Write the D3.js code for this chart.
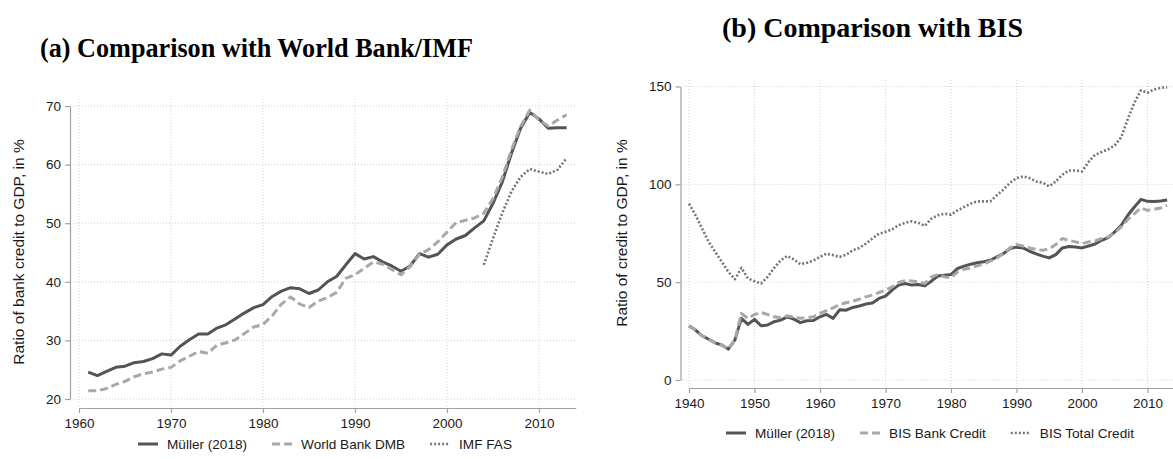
<!DOCTYPE html>
<html>
<head>
<meta charset="utf-8">
<script src="https://cdn.jsdelivr.net/npm/d3@7"></script>
<style>
  body { margin: 0; background: #fff; }
  svg { display: block; }
  text { font-family: "Liberation Sans", Arial, Helvetica, sans-serif; fill: #1a1a1a; }
  .title { font-family: "Liberation Serif", "Times New Roman", serif; font-weight: bold; fill: #000; }
</style>
</head>
<body>
<svg id="chart" width="1173" height="459"></svg>
<script>
// ---- Panel (a): bank credit to GDP, Müller vs World Bank / IMF ----
const yearsA = d3.range(1961, 2014);
const mullerA = [
  24.6, 24.0, 24.7, 25.4, 25.6, 26.2, 26.4, 26.9, 27.7, 27.5,
  29.0, 30.1, 31.1, 31.1, 32.1, 32.7, 33.7, 34.7, 35.6, 36.1,
  37.5, 38.4, 39.0, 38.8, 38.0, 38.6, 40.0, 40.9, 42.9, 44.8,
  43.9, 44.3, 43.4, 42.7, 41.8, 42.7, 44.8, 44.2, 44.7, 46.3,
  47.3, 47.9, 49.2, 50.4, 53.4, 57.0, 61.9, 66.2, 68.9, 67.8,
  66.2, 66.3, 66.3
];
const worldBankDMB = [
  21.4, 21.4, 21.8, 22.5, 23.0, 23.8, 24.3, 24.6, 25.1, 25.4,
  26.5, 27.3, 28.1, 27.8, 29.2, 29.6, 30.1, 31.2, 32.3, 32.7,
  34.2, 36.2, 37.4, 36.2, 35.6, 36.7, 37.3, 38.2, 40.6, 41.2,
  42.3, 43.4, 43.0, 42.1, 41.2, 42.6, 44.7, 45.5, 46.8, 48.5,
  50.1, 50.5, 50.9, 51.7, 54.2, 57.8, 62.5, 66.5, 69.3, 67.6,
  66.6, 67.6, 68.5
];
const yearsIMF = d3.range(2004, 2014);
const imfFAS = [42.9, 47.4, 51.7, 55.4, 57.9, 59.25, 58.8, 58.4, 59.1, 61.1];
const xTicksA = [1960, 1970, 1980, 1990, 2000, 2010];
const yTicksA = [20, 30, 40, 50, 60, 70];

// ---- Panel (b): credit to GDP, Müller vs BIS ----
const yearsB = d3.range(1940, 2014);
const mullerB = [
  27.7, 25.5, 22.6, 20.8, 19.0, 17.9, 15.8, 20.4, 31.5, 28.4,
  31.0, 27.7, 28.1, 29.8, 30.6, 32.3, 31.1, 29.3, 30.3, 30.4,
  32.3, 33.5, 31.5, 35.9, 35.7, 37.1, 37.8, 38.8, 39.3, 41.7,
  42.9, 45.9, 48.5, 49.3, 48.5, 48.8, 48.1, 50.5, 53.1, 53.6,
  53.9, 57.0, 58.2, 59.2, 59.9, 60.4, 61.2, 62.9, 64.6, 67.2,
  67.9, 67.5, 65.8, 64.5, 63.3, 62.4, 64.1, 67.5, 68.2, 68.0,
  67.5, 68.5, 69.5, 71.4, 72.8, 75.7, 79.1, 84.2, 88.4, 92.3,
  91.3, 91.2, 91.5, 92.0
];
const bisBankCredit = [
  27.7, 25.5, 22.6, 20.8, 19.0, 17.9, 15.8, 20.4, 34.0, 31.5,
  33.5, 34.5, 33.5, 32.3, 31.8, 32.8, 32.3, 31.5, 31.8, 32.3,
  34.0, 35.5, 36.9, 38.6, 39.5, 40.3, 41.3, 42.5, 43.4, 44.7,
  45.9, 47.6, 49.8, 50.8, 50.6, 50.2, 49.3, 52.7, 53.9, 52.7,
  52.2, 55.3, 56.6, 57.3, 58.3, 59.3, 60.7, 62.4, 64.6, 67.5,
  69.2, 68.5, 67.5, 66.7, 66.3, 67.0, 69.2, 72.3, 71.4, 70.6,
  69.7, 70.6, 71.1, 72.3, 73.1, 75.3, 78.2, 82.1, 85.0, 87.9,
  86.7, 87.2, 87.9, 89.3
];
const bisTotalCredit = [
  90.1, 84.2, 77.4, 70.6, 65.5, 60.4, 55.3, 51.5, 57.3, 51.9,
  50.5, 49.3, 52.7, 57.3, 61.2, 63.4, 61.6, 59.2, 59.9, 61.1,
  62.9, 64.6, 63.8, 62.9, 64.0, 66.3, 67.5, 69.7, 72.3, 74.8,
  75.7, 77.0, 79.1, 80.3, 81.1, 80.3, 78.8, 82.5, 84.2, 85.0,
  84.5, 86.7, 88.4, 90.1, 91.3, 91.3, 91.3, 94.4, 97.3, 100.8,
  103.2, 104.1, 103.2, 101.5, 100.8, 99.0, 101.5, 104.9, 107.1, 107.1,
  106.6, 111.4, 115.1, 116.5, 117.9, 119.9, 124.1, 133.5, 141.7, 148.0,
  146.8, 148.5, 149.3, 149.6
];
const xTicksB = [1940, 1950, 1960, 1970, 1980, 1990, 2000, 2010];
const yTicksB = [0, 50, 100, 150];

// Line styles shared by both panels
const lineStyle = {
  solid: { stroke: "#545454", width: 3, dash: null },
  dash:  { stroke: "#a8a8a8", width: 3, dash: "8,4" },
  dot:   { stroke: "#757575", width: 2.6, dash: "2,2" }
};

const svg = d3.select("#chart");
svg.append("rect").attr("width", 1173).attr("height", 459).attr("fill", "#fff");

function drawPanel(cfg) {
  const g = svg.append("g");
  const { x, y } = cfg;

  // grid
  g.append("g").selectAll("line.h").data(cfg.yTicks).join("line")
    .attr("x1", cfg.left).attr("x2", cfg.right)
    .attr("y1", d => y(d)).attr("y2", d => y(d))
    .attr("stroke", "#d2d2d2").attr("stroke-width", 1).attr("stroke-dasharray", "1,2");
  g.append("g").selectAll("line.v").data(cfg.xTicks).join("line")
    .attr("x1", d => x(d)).attr("x2", d => x(d))
    .attr("y1", cfg.top).attr("y2", cfg.bottom)
    .attr("stroke", "#d2d2d2").attr("stroke-width", 1).attr("stroke-dasharray", "1,2");

  // axes
  const ax = g.append("g").attr("transform", `translate(0,${cfg.bottom})`)
    .call(d3.axisBottom(x).tickValues(cfg.xTicks).tickFormat(d3.format("d")).tickSize(5).tickSizeOuter(0).tickPadding(5));
  const ay = g.append("g").attr("transform", `translate(${cfg.left},0)`)
    .call(d3.axisLeft(y).tickValues(cfg.yTicks).tickSize(5).tickSizeOuter(0).tickPadding(4));
  [ax, ay].forEach(a => {
    a.select(".domain").attr("stroke", "#a0a0a0").attr("stroke-width", 1.2);
    a.selectAll(".tick line").attr("stroke", "#a0a0a0").attr("stroke-width", 1.2);
    a.selectAll(".tick text").attr("font-size", 13.5).attr("fill", "#1a1a1a")
      .attr("font-family", "'Liberation Sans', Arial, sans-serif");
  });

  // series
  cfg.series.forEach(s => {
    const st = lineStyle[s.style];
    const pts = s.years.map((yr, i) => [yr, s.values[i]]);
    g.append("path").datum(pts)
      .attr("d", d3.line().x(d => x(d[0])).y(d => y(d[1])))
      .attr("fill", "none").attr("stroke", st.stroke).attr("stroke-width", st.width)
      .attr("stroke-dasharray", st.dash).attr("stroke-linejoin", "round");
  });

  // y-axis title
  g.append("text")
    .attr("transform", `translate(${cfg.yTitleX},${cfg.yTitleY}) rotate(-90)`)
    .attr("text-anchor", "middle").attr("font-size", 15.5)
    .text(cfg.yTitle);

  // panel title
  g.append("text").attr("class", "title")
    .attr("x", cfg.titleX).attr("y", cfg.titleY).attr("text-anchor", "middle")
    .attr("font-size", 27).attr("textLength", cfg.titleLen).attr("lengthAdjust", "spacingAndGlyphs")
    .text(cfg.title);

  // legend
  let lx = cfg.legendX;
  const ly = cfg.legendY;
  cfg.series.forEach(s => {
    const st = lineStyle[s.style];
    g.append("line").attr("x1", lx).attr("x2", lx + 20).attr("y1", ly).attr("y2", ly)
      .attr("stroke", st.stroke).attr("stroke-width", st.width).attr("stroke-dasharray", st.dash);
    const t = g.append("text").attr("x", lx + 29).attr("y", ly).attr("dy", "0.35em")
      .attr("font-size", 13.6).text(s.name);
    lx += 29 + t.node().getComputedTextLength() + 25;
  });
}

drawPanel({
  x: d3.scaleLinear().domain([1960, 2014]).range([79, 575.8]),
  y: d3.scaleLinear().domain([20, 70]).range([399, 106]),
  left: 70, right: 576, top: 99, bottom: 408,
  xTicks: xTicksA, yTicks: yTicksA,
  yTitle: "Ratio of bank credit to GDP, in %", yTitleX: 23.5, yTitleY: 252,
  title: "(a) Comparison with World Bank/IMF", titleX: 256.5, titleY: 57, titleLen: 433,
  legendX: 138, legendY: 444,
  series: [
    { name: "Müller (2018)", years: yearsA, values: mullerA, style: "solid" },
    { name: "World Bank DMB", years: yearsA, values: worldBankDMB, style: "dash" },
    { name: "IMF FAS", years: yearsIMF, values: imfFAS, style: "dot" }
  ]
});

drawPanel({
  x: d3.scaleLinear().domain([1940, 2020]).range([689, 689 + 80 * 6.55]),
  y: d3.scaleLinear().domain([0, 150]).range([380, 86.5]),
  left: 680.5, right: 1200, top: 80, bottom: 388,
  xTicks: xTicksB, yTicks: yTicksB,
  yTitle: "Ratio of credit to GDP, in %", yTitleX: 627, yTitleY: 233,
  title: "(b) Comparison with BIS", titleX: 872.5, titleY: 37, titleLen: 301,
  legendX: 726, legendY: 433,
  series: [
    { name: "Müller (2018)", years: yearsB, values: mullerB, style: "solid" },
    { name: "BIS Bank Credit", years: yearsB, values: bisBankCredit, style: "dash" },
    { name: "BIS Total Credit", years: yearsB, values: bisTotalCredit, style: "dot" }
  ]
});
</script>
</body>
</html>
